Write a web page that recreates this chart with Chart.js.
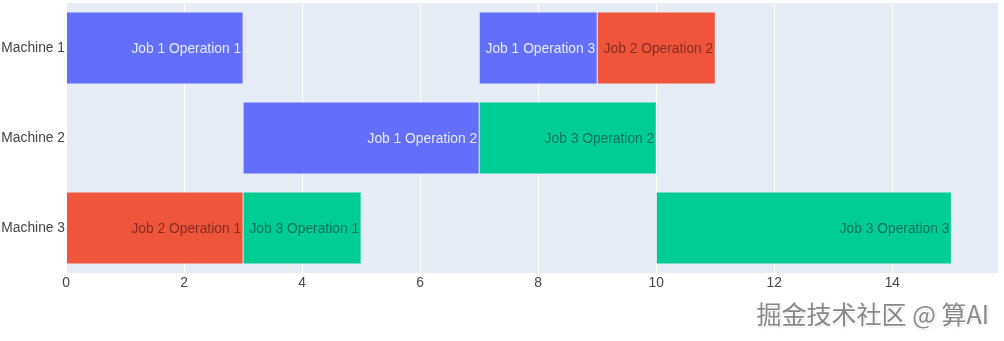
<!DOCTYPE html>
<html lang="zh">
<head>
    <meta charset="UTF-8">
    <title>Job Shop Schedule</title>
    <script src="https://cdn.jsdelivr.net/npm/chart.js"></script>
    <style>
        body {
            margin: 0;
            background: #ffffff;
            font-family: "Liberation Sans", Arial, sans-serif;
        }
        #wrap {
            position: relative;
            width: 1004px;
            height: 341px;
        }
        #mark {
            position: absolute;
            right: 15px;
            top: 297px;
            font-family: "Noto Sans CJK SC", sans-serif;
            font-size: 25px;
            line-height: 32px;
            color: #888888;
            text-shadow: 1px 1px 0 #fff, -1px -1px 0 #fff, 1px 1px 2px rgba(0,0,0,0.25);
        }
    </style>
</head>
<body>
    <div id="wrap">
        <canvas id="gantt" width="1004" height="341"></canvas>
        <div id="mark">掘金技术社区 @ 算AI</div>
    </div>

    <script>
        // schedule data
        const machines = ['Machine 1', 'Machine 2', 'Machine 3'];
        const opLabels = ['Job 1 Operation 1', 'Job 1 Operation 2', 'Job 1 Operation 3',
                          'Job 2 Operation 1', 'Job 2 Operation 2',
                          'Job 3 Operation 1', 'Job 3 Operation 2', 'Job 3 Operation 3'];
        const opJob     = [1, 1, 1, 2, 2, 3, 3, 3];
        const opMachine = ['Machine 1', 'Machine 2', 'Machine 1',
                           'Machine 3', 'Machine 1',
                           'Machine 3', 'Machine 2', 'Machine 3'];
        const opStart   = [0, 3, 7, 0, 9, 3, 7, 10];
        const opEnd     = [3, 7, 9, 3, 11, 5, 10, 15];
        const xTicks    = [0, 2, 4, 6, 8, 10, 12, 14];

        const jobColors = { 1: '#636efa', 2: '#ef553b', 3: '#00cc96' };
        const jobText   = { 1: 'rgba(255,255,255,0.85)', 2: 'rgba(70,20,20,0.65)', 3: 'rgba(20,60,60,0.65)' };
        const FONT = '"Liberation Sans", Arial, sans-serif';

        const datasets = opLabels.map((name, i) => ({
            label: name,
            data: [{ x: [opStart[i], opEnd[i]], y: opMachine[i] }],
            backgroundColor: jobColors[opJob[i]],
            borderColor: '#e5ecf6',
            borderWidth: 0.5,
            borderSkipped: false,
            barPercentage: 0.8,
            categoryPercentage: 1.0,
            grouped: false
        }));

        // plot background
        const plotBg = {
            id: 'plotBg',
            beforeDraw(chart) {
                const a = chart.chartArea, c = chart.ctx;
                c.save();
                c.fillStyle = '#e5ecf6';
                c.fillRect(a.left, a.top, a.right - a.left, a.bottom - a.top);
                c.restore();
            }
        };

        // text inside the end of each bar
        const barText = {
            id: 'barText',
            afterDatasetsDraw(chart) {
                const c = chart.ctx;
                c.save();
                c.font = '13.8px ' + FONT;
                c.textAlign = 'right';
                c.textBaseline = 'middle';
                chart.data.datasets.forEach((ds, i) => {
                    const el = chart.getDatasetMeta(i).data[0];
                    c.fillStyle = jobText[opJob[i]];
                    c.fillText(opLabels[i], el.x - 2, el.y + 1);
                });
                c.restore();
            }
        };

        new Chart(document.getElementById('gantt'), {
            type: 'bar',
            data: { labels: machines, datasets: datasets },
            plugins: [plotBg, barText],
            options: {
                indexAxis: 'y',
                responsive: false,
                animation: false,
                layout: { padding: { top: 3, right: 6, left: 0, bottom: 0 } },
                plugins: {
                    legend: { display: false },
                    tooltip: { enabled: false }
                },
                scales: {
                    x: {
                        type: 'linear',
                        min: 0,
                        max: 15.79,
                        border: { display: false },
                        grid: { color: '#ffffff', lineWidth: 1, drawTicks: false },
                        afterBuildTicks: s => { s.ticks = xTicks.map(v => ({ value: v })); },
                        afterFit: s => { s.height = 68; s.paddingLeft = 0; s.paddingRight = 0; },
                        ticks: {
                            padding: 2,
                            maxRotation: 0,
                            color: '#444',
                            font: { family: FONT, size: 13.8 }
                        }
                    },
                    y: {
                        type: 'category',
                        border: { display: false },
                        grid: { display: false, drawTicks: false, tickLength: 0 },
                        afterFit: s => { s.width = 66; s.paddingTop = 0; s.paddingBottom = 0; },
                        ticks: {
                            padding: 1,
                            color: '#444',
                            font: { family: FONT, size: 13.8 }
                        }
                    }
                }
            }
        });
    </script>
</body>
</html>
